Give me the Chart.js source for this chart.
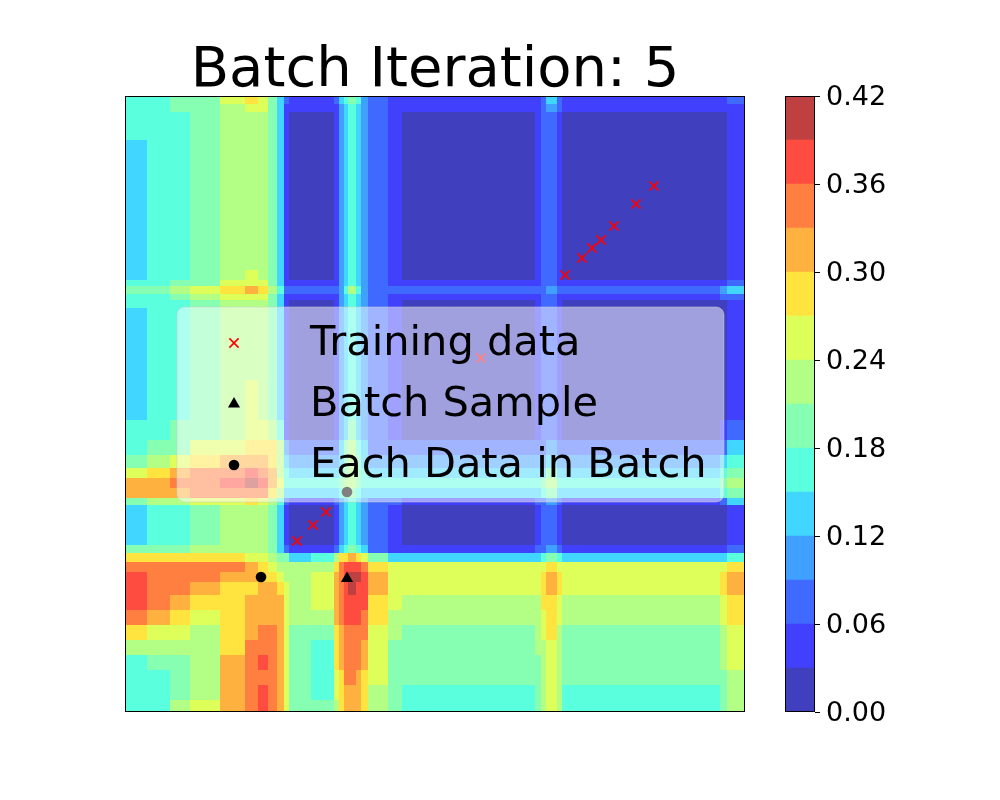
<!DOCTYPE html>
<html>
<head>
<meta charset="utf-8">
<title>Batch Iteration: 5</title>
<script src="https://cdn.jsdelivr.net/npm/chart.js@4.4.1/dist/chart.umd.min.js"></script>
<style>
  html, body { margin: 0; padding: 0; background: #fff; }
  #wrap { position: relative; width: 1000px; height: 800px; }
  #wrap canvas { position: absolute; left: 0; top: 0; }
</style>
</head>
<body>
<div id="wrap">
  <canvas id="field" width="1000" height="800"></canvas>
  <canvas id="cbar" width="1000" height="800"></canvas>
</div>
<script>
// contour levels, also the colorbar range
const levels = [0, 0.03, 0.06, 0.09, 0.12, 0.15, 0.18, 0.21, 0.24, 0.27, 0.30, 0.33, 0.36, 0.39, 0.42];
const cbTicks = [0, 0.06, 0.12, 0.18, 0.24, 0.30, 0.36, 0.42];

// grid the surface was read on (data units, x to the right, y upwards; rows go top to bottom)
const gridX = [0, 2.2, 4.5, 6.5, 9.5, 12, 13.3, 14.3, 15.2, 15.9, 16.4, 18.6, 20.9, 21.4, 21.9, 22.3,
               23.1, 23.6, 24.3, 26.3, 27.7, 34.5, 41, 41.6, 42.1, 43.2, 43.7, 51.5, 59.5, 60.2, 62];
const gridY = [61.6, 60.8, 60, 57.2, 51.2, 44.2, 43.2, 42.6, 41.8, 41.2, 40.4, 33.2, 29.2, 27.2, 25.7, 24.4,
               23.4, 22.4, 21.4, 20.7, 16.7, 15.9, 15, 14, 13, 11.7, 10.2, 8.7, 7.2, 5.7, 4.2, 2.7, 1.2, 0];

// surface value of each cell, in hundredths
const surface = [
  [16,16,19,19,25,28,25,19,13,7,4,4,7,13,16,19,16,10,7,4,4,4,4,7,13,7,4,4,4,7],
  [16,16,19,19,22,25,25,19,13,4,4,4,4,10,13,16,13,10,7,4,4,4,4,7,10,7,4,4,4,4],
  [16,16,16,19,22,22,22,19,13,4,1,1,4,10,13,16,13,10,7,4,1,1,4,7,7,4,1,1,1,4],
  [13,16,16,19,22,22,22,19,13,4,1,1,4,10,13,16,13,10,7,4,1,1,4,7,7,4,1,1,1,4],
  [13,16,16,19,22,22,22,19,13,4,1,1,4,10,13,16,13,10,7,4,1,1,4,7,7,4,1,1,1,4],
  [13,16,16,19,22,25,22,19,13,4,1,1,4,10,13,16,13,10,7,4,1,1,4,7,7,4,1,1,1,4],
  [16,16,19,19,25,25,25,19,13,4,4,4,4,10,13,16,13,10,7,4,4,4,4,7,7,4,4,4,4,7],
  [19,19,22,25,28,31,28,22,16,7,7,7,7,10,16,22,16,10,7,7,7,7,7,7,10,7,7,7,10,13],
  [16,16,19,22,25,25,25,19,13,4,4,4,4,10,13,16,13,10,7,4,4,4,4,7,7,4,4,4,7,7],
  [16,16,16,19,22,22,22,19,13,4,1,1,4,10,13,16,13,10,7,4,1,1,4,7,7,4,1,1,1,4],
  [13,16,16,19,22,22,22,19,13,4,1,1,4,10,13,16,13,10,7,4,1,1,4,7,7,4,1,1,1,4],
  [13,16,16,19,22,25,22,19,13,4,1,1,4,10,13,16,13,10,7,4,1,1,4,7,7,4,1,1,1,4],
  [16,16,19,19,22,25,25,22,16,4,1,1,4,10,13,19,13,10,7,4,1,1,4,7,7,4,1,1,4,7],
  [16,19,19,25,25,28,28,28,22,10,7,7,7,13,19,22,16,13,7,7,7,7,7,7,10,7,7,7,7,13],
  [19,22,25,28,31,31,31,28,22,13,10,10,10,13,19,22,19,13,10,10,10,10,10,10,13,10,10,10,13,16],
  [25,28,31,34,34,37,34,31,22,16,13,13,13,16,19,22,19,16,13,13,13,13,13,13,19,13,13,13,16,19],
  [31,31,34,34,37,40,37,31,25,16,16,16,16,19,22,22,19,16,16,16,16,16,16,19,22,16,16,16,19,22],
  [31,31,31,34,34,34,34,28,22,13,13,13,13,16,19,19,16,13,13,13,13,13,13,16,19,13,13,13,16,19],
  [19,22,22,25,25,28,25,22,16,7,4,4,7,10,13,16,13,10,7,7,4,4,7,7,10,7,4,4,7,13],
  [13,16,16,19,22,22,22,19,13,4,1,1,4,10,13,16,13,10,7,4,1,1,4,7,7,4,1,1,1,4],
  [19,19,19,22,22,22,22,19,13,7,4,4,7,13,16,19,16,13,7,4,4,4,7,7,10,7,4,4,4,7],
  [28,28,28,28,28,25,25,22,19,19,13,16,22,28,28,31,28,25,19,13,13,13,13,16,19,16,13,13,13,16],
  [34,34,34,34,34,31,28,25,22,22,22,22,28,34,37,37,37,34,28,25,25,25,25,25,28,25,25,25,25,28],
  [37,34,34,34,31,31,28,28,25,22,22,25,31,34,37,40,40,37,31,25,25,25,25,28,31,28,25,25,28,31],
  [37,34,34,31,28,28,31,31,28,25,22,25,31,34,37,40,37,37,31,25,25,25,25,28,31,28,25,25,28,31],
  [37,34,31,28,28,31,31,31,31,25,22,25,31,34,37,37,37,37,28,25,22,22,22,28,28,25,22,22,25,28],
  [34,31,28,25,28,31,31,31,31,25,22,22,31,34,37,37,37,34,28,22,22,22,22,25,28,25,22,22,25,28],
  [28,25,25,22,28,31,34,34,31,25,19,19,28,31,34,34,34,34,25,22,19,19,22,25,28,22,19,19,22,25],
  [22,22,22,22,28,34,34,34,31,25,19,16,28,31,34,34,34,31,25,19,19,19,22,22,25,22,19,19,22,25],
  [16,19,19,22,31,34,37,34,31,25,19,16,28,31,34,34,34,31,25,19,19,19,19,22,25,22,19,19,22,25],
  [16,16,19,22,31,34,34,34,31,25,19,16,25,28,34,34,31,28,25,19,19,19,19,22,25,22,19,19,19,22],
  [16,16,19,22,31,34,37,34,31,25,19,16,25,28,31,31,31,28,22,19,16,16,19,22,25,22,16,16,19,22],
  [16,16,22,25,31,34,37,34,31,25,19,19,22,28,31,31,31,28,22,19,16,16,19,22,25,22,16,16,19,22]
];

// scatter points
const trainX = [17.2, 18.8, 20.1, 35.6, 44.0, 45.7, 46.7, 47.6, 48.9, 51.1, 52.9];
const trainY = [17.1, 18.7, 20.0, 35.4, 43.7, 45.4, 46.4, 47.2, 48.6, 50.8, 52.6];
const batchX = [22.2];
const batchY = [13.35];
const eachX = [13.6, 22.2];
const eachY = [13.5, 22.0];

// jet colours at alpha 0.75 over white, one per band
const bandColors = ['#4040bf', '#4040fd', '#4069ff', '#40a0ff', '#40d6ff', '#5affde', '#86ffb2',
                    '#b3ff86', '#deff5a', '#ffe440', '#ffb140', '#ff7f40', '#ff4c40', '#bf4040'];

Chart.defaults.font.family = '"DejaVu Sans", sans-serif';
Chart.defaults.color = '#000';

function bandOf(v) {
    for (let i = levels.length - 2; i >= 0; i--) {
        if (v >= levels[i]) return i;
    }
    return 0;
}

function toPoints(xs, ys) {
    return xs.map((x, i) => ({ x: x, y: ys[i] }));
}

function marker(ctx, ds, x, y) {
    ctx.save();
    ctx.fillStyle = ds.pointBackgroundColor;
    ctx.strokeStyle = ds.pointBorderColor;
    ctx.lineWidth = ds.pointBorderWidth;
    Chart.helpers.drawPoint(ctx, {
        pointStyle: ds.pointStyle,
        radius: ds.pointRadius,
        borderWidth: ds.pointBorderWidth,
        rotation: 0
    }, x, y);
    ctx.restore();
}

function roundBox(ctx, x, y, w, h, r) {
    ctx.beginPath();
    ctx.moveTo(x + r, y);
    ctx.arcTo(x + w, y, x + w, y + h, r);
    ctx.arcTo(x + w, y + h, x, y + h, r);
    ctx.arcTo(x, y + h, x, y, r);
    ctx.arcTo(x, y, x + w, y, r);
    ctx.closePath();
}

// filled surface under the points, frame on top of it
const fieldPlugin = {
    id: 'field',
    beforeDatasetsDraw(chart) {
        const { ctx, chartArea, scales } = chart;
        ctx.save();
        ctx.beginPath();
        ctx.rect(chartArea.left, chartArea.top, chartArea.width, chartArea.height);
        ctx.clip();
        surface.forEach((row, i) => {
            const y0 = Math.round(scales.y.getPixelForValue(gridY[i]));
            const y1 = Math.round(scales.y.getPixelForValue(gridY[i + 1]));
            row.forEach((v, j) => {
                const x0 = Math.round(scales.x.getPixelForValue(gridX[j]));
                const x1 = Math.round(scales.x.getPixelForValue(gridX[j + 1]));
                ctx.fillStyle = bandColors[bandOf(v / 100)];
                ctx.fillRect(x0, y0, x1 - x0, y1 - y0);
            });
        });
        ctx.restore();
    },
    afterDatasetsDraw(chart) {
        const { ctx, chartArea: a } = chart;
        ctx.save();
        ctx.strokeStyle = '#000';
        ctx.lineWidth = 1;
        ctx.strokeRect(a.left + 0.5, a.top + 0.5, a.width - 1, a.height - 1);
        ctx.restore();
    }
};

// legend box sitting over the plot
const legendPlugin = {
    id: 'boxLegend',
    afterDraw(chart) {
        const { ctx, chartArea: a } = chart;
        const left = a.left + 52, top = a.top + 211, w = 547, h = 195;
        ctx.save();
        roundBox(ctx, left, top, w, h, 8);
        ctx.fillStyle = 'rgba(255,255,255,0.5)';
        ctx.fill();
        ctx.strokeStyle = 'rgba(204,204,204,0.5)';
        ctx.lineWidth = 1;
        ctx.stroke();
        ctx.font = '41.5px "DejaVu Sans"';
        ctx.textBaseline = 'middle';
        ctx.textAlign = 'left';
        chart.data.datasets.forEach((ds, i) => {
            const cy = top + 36 + i * 61;
            marker(ctx, ds, left + 57, cy);
            ctx.fillStyle = '#000';
            ctx.fillText(ds.label, left + 133, cy + 1);
        });
        ctx.restore();
    }
};

new Chart(document.getElementById('field'), {
    type: 'scatter',
    data: {
        datasets: [
            {
                label: 'Training data',
                data: toPoints(trainX, trainY),
                pointStyle: 'crossRot',
                pointRadius: 6.5,
                pointBorderWidth: 1.6,
                pointBorderColor: '#ff0000',
                pointBackgroundColor: '#ff0000'
            },
            {
                label: 'Batch Sample',
                data: toPoints(batchX, batchY),
                pointStyle: 'triangle',
                pointRadius: 7,
                pointBorderWidth: 0,
                pointBorderColor: '#000',
                pointBackgroundColor: '#000'
            },
            {
                label: 'Each Data in Batch',
                data: toPoints(eachX, eachY),
                pointStyle: 'circle',
                pointRadius: 5.3,
                pointBorderWidth: 0,
                pointBorderColor: '#000',
                pointBackgroundColor: '#000'
            }
        ]
    },
    options: {
        responsive: false,
        animation: false,
        events: [],
        layout: { padding: { left: 125, right: 255, top: 0, bottom: 88 } },
        plugins: {
            legend: { display: false },
            tooltip: { enabled: false },
            title: {
                display: true,
                text: 'Batch Iteration: 5',
                fullSize: false,
                color: '#000',
                font: { size: 56, weight: 'normal', lineHeight: 0.85 },
                padding: { top: 48, bottom: 0.4 }
            }
        },
        scales: {
            x: { type: 'linear', min: 0, max: 62, display: false },
            y: { type: 'linear', min: 0, max: 61.6, display: false }
        }
    },
    plugins: [fieldPlugin, legendPlugin]
});

// colorbar: one stacked bar per contour band
const cbFrame = {
    id: 'cbFrame',
    afterDraw(chart) {
        const { ctx, chartArea: a } = chart;
        ctx.save();
        ctx.strokeStyle = '#000';
        ctx.lineWidth = 1;
        ctx.strokeRect(a.left + 0.5, a.top + 0.5, a.width - 1, a.height - 1);
        ctx.restore();
    }
};

new Chart(document.getElementById('cbar'), {
    type: 'bar',
    data: {
        labels: [''],
        datasets: bandColors.map((c, i) => ({
            data: [levels[i + 1] - levels[i]],
            backgroundColor: c,
            borderWidth: 0,
            barPercentage: 1,
            categoryPercentage: 1
        }))
    },
    options: {
        responsive: false,
        animation: false,
        events: [],
        layout: { padding: { left: 785, right: 105, top: 96, bottom: 88 } },
        plugins: { legend: { display: false }, tooltip: { enabled: false } },
        scales: {
            x: { stacked: true, display: false },
            y: {
                stacked: true,
                position: 'right',
                min: 0,
                max: 0.42,
                afterFit: (scale) => { scale.width = 80; },
                afterBuildTicks: (scale) => { scale.ticks = cbTicks.map(v => ({ value: v })); },
                ticks: {
                    color: '#000',
                    padding: 6,
                    labelOffset: 2,
                    font: { size: 27 },
                    callback: (v) => Number(v).toFixed(2)
                },
                grid: { drawOnChartArea: false, drawTicks: true, tickLength: 5, color: '#000', lineWidth: 1 },
                border: { display: false }
            }
        }
    },
    plugins: [cbFrame]
});
</script>
</body>
</html>
